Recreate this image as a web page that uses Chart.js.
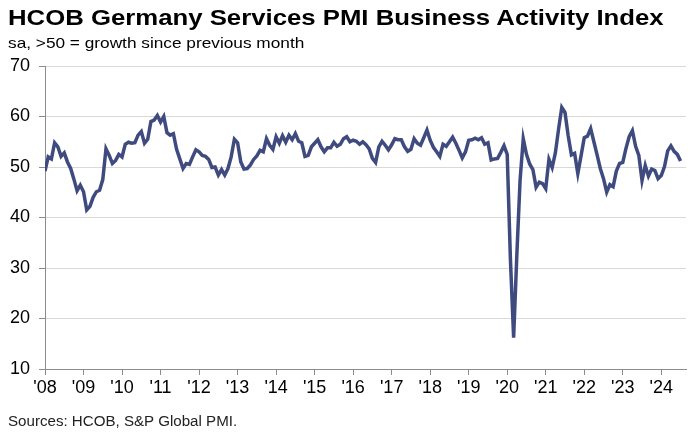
<!DOCTYPE html>
<html>
<head>
<meta charset="utf-8">
<title>HCOB Germany Services PMI Business Activity Index</title>
<script src="https://cdn.jsdelivr.net/npm/chart.js@4.4.1/dist/chart.umd.min.js"></script>
<style>
    html, body { margin: 0; padding: 0; background: #fff; }
    #wrap { position: relative; width: 691px; height: 435px; overflow: hidden; font-family: "Liberation Sans", Arial, sans-serif; }
    #chart { position: absolute; left: 0; top: 0; }
    .txt { position: absolute; left: 8px; white-space: nowrap; transform-origin: left top; color: #000; }
    #title { top: 5px; font-size: 22px; font-weight: bold; transform: scaleX(1.17); }
    #subtitle { top: 34px; font-size: 15px; transform: scaleX(1.15); }
    #source { top: 413px; font-size: 14px; color: #222; transform: scaleX(1.08); }
</style>
</head>
<body>
<div id="wrap">
    <canvas id="chart" width="691" height="435"></canvas>
    <div class="txt" id="title">HCOB Germany Services PMI Business Activity Index</div>
    <div class="txt" id="subtitle">sa, &gt;50 = growth since previous month</div>
    <div class="txt" id="source">Sources: HCOB, S&amp;P Global PMI.</div>
</div>
<script>
    "use strict";

    // monthly index, first value is Feb 2008, last is Aug 2024
    const pmi = [
        49.2, 52.0, 51.6, 54.8, 54.0, 52.1, 52.8, 51.0, 49.7, 47.6, 45.3,             // 2008
        46.4, 45.1, 41.5, 42.2, 44.0, 45.1, 45.4, 47.5, 53.6, 52.3, 50.7, 51.3,       // 2009
        52.5, 52.0, 54.5, 54.9, 54.7, 54.8, 56.3, 57.0, 54.7, 55.5, 59.0, 59.3,       // 2010
        60.2, 58.9, 60.0, 56.8, 56.3, 56.6, 53.5, 51.6, 49.7, 50.7, 50.5, 52.0,       // 2011
        53.4, 53.0, 52.3, 52.1, 51.5, 49.9, 50.0, 48.4, 49.5, 48.4, 49.7, 52.0,       // 2012
        55.5, 54.8, 51.0, 49.6, 49.7, 50.4, 51.5, 52.2, 53.3, 53.0, 55.6, 54.3,       // 2013
        53.5, 56.0, 54.7, 56.2, 54.9, 56.3, 55.4, 56.6, 55.1, 54.8, 52.1, 52.3,       // 2014
        54.0, 54.7, 55.4, 54.0, 53.0, 53.8, 53.8, 54.9, 54.1, 54.5, 55.6, 56.0,       // 2015
        55.0, 55.3, 55.1, 54.5, 55.0, 54.4, 53.6, 51.7, 50.9, 54.0, 55.1, 54.3,       // 2016
        53.4, 54.4, 55.6, 55.4, 55.4, 54.0, 53.1, 53.5, 55.6, 54.7, 54.3, 55.8,       // 2017
        57.3, 55.3, 53.9, 53.0, 52.1, 54.5, 54.1, 55.0, 55.9, 54.7, 53.3, 51.8,       // 2018
        53.0, 55.3, 55.4, 55.7, 55.4, 55.8, 54.5, 54.8, 51.4, 51.6, 51.7, 52.9,       // 2019
        54.2, 52.5, 31.7, 16.2, 32.6, 47.3, 55.6, 52.5, 50.6, 49.5, 46.0, 47.0,       // 2020
        46.7, 45.7, 51.5, 49.9, 52.8, 57.5, 61.8, 60.8, 56.2, 52.4, 52.7, 48.7,       // 2021
        52.2, 55.8, 56.1, 57.6, 55.0, 52.4, 49.7, 47.7, 45.0, 46.5, 46.1, 49.2,       // 2022
        50.7, 50.9, 53.7, 56.0, 57.2, 54.1, 52.3, 47.3, 50.3, 48.2, 49.6, 49.3,       // 2023
        47.7, 48.3, 50.1, 53.2, 54.2, 53.1, 52.5, 51.2                                // 2024
    ];

    // year ticks sit every 12 months from the first point
    const yearTicks = [0, 12, 24, 36, 48, 60, 72, 84, 96, 108, 120, 132, 144, 156, 168, 180, 192];
    const yearLabels = ["'08", "'09", "'10", "'11", "'12", "'13", "'14", "'15", "'16", "'17",
                        "'18", "'19", "'20", "'21", "'22", "'23", "'24"];
    const yTicks = [10, 20, 30, 40, 50, 60, 70];

    const lineColor = '#3f4b7f';
    const axisColor = '#8c8c8c';
    const gridColor = '#d9d9d9';
    const tickFont = { family: "'Liberation Sans', Arial, sans-serif", size: 18 };

    const ctx = document.getElementById('chart').getContext('2d');
    const chart = new Chart(ctx, {
        type: 'line',
        data: {
            datasets: [{
                data: pmi.map((v, i) => ({ x: i, y: v })),
                borderColor: lineColor,
                borderWidth: 3.5,
                pointRadius: 0,
                tension: 0,
                fill: false,
            }]
        },
        options: {
            responsive: false,
            animation: false,
            events: [],
            layout: { padding: { top: 66, right: 5, bottom: 36, left: 0 } },
            plugins: {
                legend: { display: false },
                tooltip: { enabled: false },
            },
            scales: {
                x: {
                    type: 'linear',
                    min: 0,
                    max: 199.7,
                    afterBuildTicks: (scale) => {
                        scale.ticks = yearTicks.map(v => ({ value: v }));
                    },
                    afterFit: (scale) => { scale.height = 30; },
                    ticks: {
                        autoSkip: false,
                        maxRotation: 0,
                        padding: 2,
                        color: '#000',
                        font: tickFont,
                        callback: (v) => yearLabels[yearTicks.indexOf(v)],
                    },
                    grid: { drawOnChartArea: false, tickLength: 6, tickColor: axisColor },
                    border: { color: axisColor, width: 1 },
                },
                y: {
                    min: 10,
                    max: 70,
                    afterBuildTicks: (scale) => {
                        scale.ticks = yTicks.map(v => ({ value: v }));
                    },
                    afterFit: (scale) => { scale.width = 45; },
                    ticks: {
                        padding: 9,
                        color: '#000',
                        font: tickFont,
                    },
                    grid: { color: gridColor, tickColor: axisColor, tickLength: 6 },
                    border: { color: axisColor, width: 1 },
                }
            }
        }
    });
</script>
</body>
</html>
